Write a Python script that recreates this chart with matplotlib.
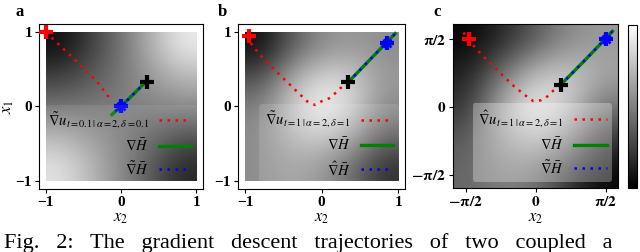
import matplotlib
matplotlib.use('Agg')
import matplotlib.pyplot as plt
import numpy as np

plt.rcParams['font.family'] = ['Liberation Serif', 'DejaVu Serif']
plt.rcParams['mathtext.fontset'] = 'stix'

# background brightness (rows: x1 from top to bottom, cols: x2 left to right)
field_a = [
    [0.05, 0.25, 0.45, 0.70, 0.92],
    [0.25, 0.35, 0.47, 0.60, 0.72],
    [0.45, 0.47, 0.50, 0.52, 0.55],
    [0.70, 0.60, 0.50, 0.40, 0.28],
    [0.88, 0.70, 0.50, 0.30, 0.08],
]
field_b = [
    [0.05, 0.35, 0.55, 0.60, 0.55],
    [0.30, 0.65, 0.85, 0.80, 0.60],
    [0.50, 0.80, 0.97, 0.85, 0.55],
    [0.55, 0.72, 0.80, 0.65, 0.35],
    [0.55, 0.62, 0.55, 0.35, 0.08],
]
field_c = [
    [0.02, 0.15, 0.35, 0.55, 0.60],
    [0.12, 0.45, 0.75, 0.80, 0.65],
    [0.20, 0.70, 0.97, 0.80, 0.45],
    [0.35, 0.60, 0.75, 0.55, 0.20],
    [0.40, 0.50, 0.45, 0.20, 0.02],
]

# trajectories (x2, x1)
red_a_x2 = [-1.0, -0.75, -0.5, -0.3, -0.12]
red_a_x1 = [1.0, 0.76, 0.52, 0.31, 0.07]
grad_a_x2 = [0.33, 0.1, -0.12]
grad_a_x1 = [0.33, 0.1, -0.11]
start_a = (-1.0, 1.0)
mid_a = (0.34, 0.33)
end_a = (0.0, 0.0)

red_b_x2 = [-0.97, -0.9, -0.77, -0.63, -0.48, -0.33, -0.19, -0.09, 0.0, 0.10, 0.18, 0.25, 0.35]
red_b_x1 = [0.95, 0.81, 0.66, 0.51, 0.36, 0.21, 0.07, 0.02, 0.07, 0.11, 0.18, 0.25, 0.33]
grad_b_x2 = [0.35, 0.65, 0.96]
grad_b_x1 = [0.33, 0.65, 0.98]
start_b = (-0.95, 0.95)
mid_b = (0.35, 0.33)
end_b = (0.85, 0.86)

red_c_x2 = [-1.62, -1.5, -1.35, -1.10, -0.86, -0.60, -0.47, -0.32, -0.19, -0.05, 0.11, 0.26, 0.40, 0.56]
red_c_x1 = [1.72, 1.57, 1.36, 1.09, 0.85, 0.59, 0.46, 0.34, 0.23, 0.13, 0.15, 0.24, 0.38, 0.51]
grad_c_x2 = [0.56, 1.15, 1.72]
grad_c_x1 = [0.51, 1.13, 1.75]
start_c = (-1.5, 1.57)
mid_c = (0.56, 0.51)
end_c = (1.57, 1.57)

labels_a = [r'$\tilde{\nabla} u_{t=0.1\,|\,\alpha=2,\delta=0.1}$', r'$\nabla\bar{H}$', r'$\tilde{\nabla}\bar{H}$']
labels_b = [r'$\tilde{\nabla} u_{t=1\,|\,\alpha=2,\delta=1}$', r'$\nabla\bar{H}$', r'$\hat{\nabla}\bar{H}$']
labels_c = [r'$\hat{\nabla} u_{t=1\,|\,\alpha=2,\delta=1}$', r'$\nabla\bar{H}$', r'$\tilde{\nabla}\bar{H}$']

caption = 'Fig.   2:   The   gradient   descent   trajectories   of   two   coupled   a'

DOTS = (0, (1, 2.2))


def draw_panel(ax, field, lim, red_x2, red_x1, grad_x2, grad_x1, start, mid, end, labels, legend_alpha):
    im = ax.imshow(field, extent=[-lim, lim, -lim, lim], cmap='gray', vmin=0, vmax=1,
                   interpolation='bicubic', aspect='auto', zorder=0)
    r, = ax.plot(red_x2, red_x1, color='red', lw=1.8, linestyle=DOTS, label=labels[0], zorder=2)
    g, = ax.plot(grad_x2, grad_x1, color='green', lw=2.4, label=labels[1], zorder=3)
    b, = ax.plot(grad_x2, grad_x1, color='blue', lw=1.8, linestyle=DOTS, label=labels[2], zorder=4)
    ax.plot(*start, marker='+', color='red', ms=10, mew=3, zorder=5)
    ax.plot(*mid, marker='+', color='black', ms=10, mew=3, zorder=5)
    ax.plot(*end, marker='+', color='blue', ms=10, mew=3, zorder=5)
    ax.plot(*end, marker='x', color='blue', ms=6, mew=2, zorder=5)
    leg = ax.legend(handles=[r, g, b], loc='lower right', markerfirst=False, fontsize=10.5,
                    handlelength=2.2, handletextpad=0.7, labelspacing=0.45,
                    borderaxespad=0.4, frameon=True, fancybox=True)
    leg.get_frame().set_facecolor('white')
    leg.get_frame().set_edgecolor('none')
    leg.get_frame().set_alpha(legend_alpha)
    ax.tick_params(length=3, width=0.8, labelsize=11, pad=2)
    for t in ax.get_xticklabels() + ax.get_yticklabels():
        t.set_fontweight('bold')
    return im


fig = plt.figure(figsize=(6.4, 2.52), dpi=100)

ax_a = fig.add_axes([0.061, 0.25, 0.256, 0.655])
ax_b = fig.add_axes([0.372, 0.25, 0.261, 0.655])
ax_c = fig.add_axes([0.708, 0.254, 0.258, 0.651])
cax = fig.add_axes([0.981, 0.254, 0.014, 0.647])

for ax in (ax_a, ax_b):
    ax.set_xticks([-1, 0, 1])
    ax.set_yticks([-1, 0, 1])
    ax.set_xticklabels(['\u22121', '0', '1'])
    ax.set_yticklabels(['\u22121', '0', '1'])

draw_panel(ax_a, field_a, 1.0, red_a_x2, red_a_x1, grad_a_x2, grad_a_x1, start_a, mid_a, end_a, labels_a, 0.08)
draw_panel(ax_b, field_b, 1.0, red_b_x2, red_b_x1, grad_b_x2, grad_b_x1, start_b, mid_b, end_b, labels_b, 0.12)

ax_c.set_xticks([-np.pi / 2, 0, np.pi / 2])
ax_c.set_yticks([-np.pi / 2, 0, np.pi / 2])
ax_c.set_xticklabels([r'$\mathbf{-\pi/2}$', r'$\mathbf{0}$', r'$\mathbf{\pi/2}$'])
ax_c.set_yticklabels([r'$\mathbf{-\pi/2}$', r'$\mathbf{0}$', r'$\mathbf{\pi/2}$'])
im_c = draw_panel(ax_c, field_c, 1.9, red_c_x2, red_c_x1, grad_c_x2, grad_c_x1, start_c, mid_c, end_c, labels_c, 0.3)

for ax in (ax_a, ax_b):
    ax.set_xlim(-1.09, 1.09)
    ax.set_ylim(-1.11, 1.11)
ax_c.set_xlim(-1.85, 1.85)
ax_c.set_ylim(-1.88, 1.92)

for ax in (ax_a, ax_b, ax_c):
    ax.set_xlabel(r'$x_2$', fontsize=12, labelpad=1)
ax_a.set_ylabel(r'$x_1$', fontsize=12, labelpad=0)

cb = fig.colorbar(im_c, cax=cax)
cb.set_ticks([])
cb.outline.set_linewidth(0.8)

fig.text(0.031, 0.952, 'a', fontsize=12, fontweight='bold', ha='center', va='center')
fig.text(0.347, 0.952, 'b', fontsize=12, fontweight='bold', ha='center', va='center')
fig.text(0.683, 0.952, 'c', fontsize=12, fontweight='bold', ha='center', va='center')

fig.text(0.006, 0.035, caption, fontsize=16, ha='left', va='center')

fig.savefig('out.png', dpi=100)
